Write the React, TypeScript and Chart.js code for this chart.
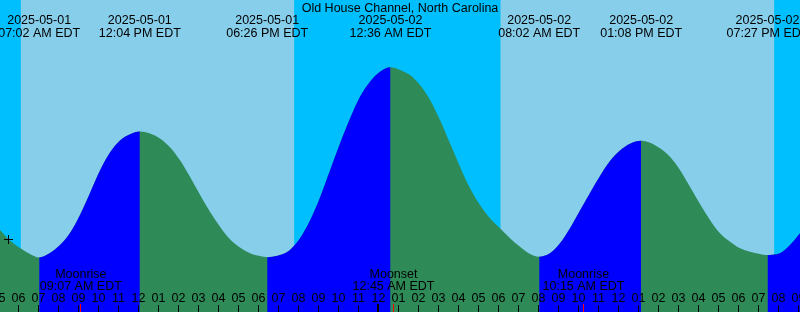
import React, { useEffect, useRef } from "react";
import { Chart, registerables } from "chart.js";

Chart.register(...registerables);

// ---- Data ----
const stationTitle = "Old House Channel, North Carolina";

// Tide extremes (hours since 2025-05-01 00:00 EDT)
const eventDates = ["2025-05-01", "2025-05-01", "2025-05-01", "2025-05-02", "2025-05-02", "2025-05-02", "2025-05-02"];
const eventTimes = ["07:02 AM EDT", "12:04 PM EDT", "06:26 PM EDT", "12:36 AM EDT", "08:02 AM EDT", "01:08 PM EDT", "07:27 PM EDT"];
const eventTypes = ["low", "high", "low", "high", "low", "high", "low"];
const eventHeights = [0.0, 0.63, 0.001, 0.951, 0.004, 0.584, 0.012];

// Sampled tide curve (hours since 2025-05-01 00:00, feet)
const sampleHours = [
  5.075, 5.575, 6.075, 6.575, 7.575, 8.075, 8.575, 9.075, 9.575, 10.075,
  10.575, 11.075, 11.575, 12.575, 13.075, 13.575, 14.075, 14.575, 15.075, 15.575,
  16.075, 16.575, 17.075, 17.575, 18.075, 18.575, 19.075, 19.575, 20.075, 20.575,
  21.075, 21.575, 22.075, 22.575, 23.075, 23.575, 24.075, 25.075, 25.575, 26.075,
  26.575, 27.075, 27.575, 28.075, 28.575, 29.075, 29.575, 30.075, 30.575, 31.075,
  31.575, 32.575, 33.075, 33.575, 34.075, 34.575, 35.075, 35.575, 36.075, 36.575,
  37.575, 38.075, 38.575, 39.075, 39.575, 40.075, 40.575, 41.075, 41.575, 42.075,
  42.575, 43.075, 43.575, 44.075, 44.575, 45.075,
];
const sampleHeights = [
  0.138, 0.085, 0.048, 0.018, 0.022, 0.062, 0.122, 0.2125, 0.3225, 0.435,
  0.525, 0.585, 0.616, 0.62, 0.595, 0.551, 0.486, 0.4035, 0.3135, 0.2285,
  0.1535, 0.091, 0.0495, 0.021, 0.007, 0.002, 0.012, 0.038, 0.096, 0.185,
  0.30, 0.435, 0.57, 0.695, 0.804, 0.879, 0.929, 0.938, 0.912, 0.862,
  0.788, 0.688, 0.571, 0.454, 0.346, 0.262, 0.196, 0.146, 0.096, 0.054,
  0.018, 0.021, 0.071, 0.146, 0.235, 0.3225, 0.4075, 0.4825, 0.535, 0.569,
  0.574, 0.546, 0.504, 0.438, 0.354, 0.2675, 0.188, 0.121, 0.079, 0.046,
  0.029, 0.018, 0.013, 0.021, 0.062, 0.121,
];

// Sun (hours since 2025-05-01 00:00)
const sunriseHours = [6.117, 30.1];
const sunsetHours = [19.783, 43.783];

// Moon events
const moonLabels = ["Moonrise", "Moonset", "Moonrise"];
const moonDates = ["2025-05-01", "2025-05-02", "2025-05-02"];
const moonTimes = ["09:07 AM EDT", "12:45 AM EDT", "10:15 AM EDT"];

// Current-time marker
const nowHour = 5.5;
const nowHeight = 0.09;

// Axis ranges
const xMin = 5.075;
const xMax = 45.075;
const yMin = -0.2725;
const yMax = 1.2875;

// ---- Helpers ----
const BASE_DATE = "2025-05-01";
function toHours(date: string, time: string): number {
  const m = time.match(/(\d+):(\d+)\s*(AM|PM)/);
  if (!m) return 0;
  let h = parseInt(m[1], 10) % 12;
  if (m[3] === "PM") h += 12;
  const mins = parseInt(m[2], 10);
  const dayOffset = (Date.parse(date) - Date.parse(BASE_DATE)) / 86400000;
  return dayOffset * 24 + h + mins / 60;
}

const eventHours = eventTimes.map((t, i) => toHours(eventDates[i], t));
const moonHours = moonTimes.map((t, i) => toHours(moonDates[i], t));

const curve = [
  ...sampleHours.map((x, i) => ({ x, y: sampleHeights[i] })),
  ...eventHours.map((x, i) => ({ x, y: eventHeights[i] })),
].sort((a, b) => a.x - b.x);

const COLORS = {
  night: "#00BFFF",
  day: "#87CEEB",
  rise: "#0000FF",
  fall: "#2E8B57",
  text: "#000000",
  mark: "#FF0000",
};
const FONT = "12.5px 'Liberation Sans', Arial, sans-serif";

function isRising(t1: number): boolean {
  for (let i = 0; i < eventHours.length; i++) {
    if (eventHours[i] >= t1 - 1e-9) return eventTypes[i] === "high";
  }
  return eventTypes[eventTypes.length - 1] === "low";
}

function riseColor(ctx: any) {
  return isRising(ctx.p1.parsed.x) ? COLORS.rise : "rgba(0,0,0,0)";
}

const backgroundPlugin = {
  id: "dayNight",
  beforeDraw(chart: any) {
    const { ctx, chartArea: a, scales } = chart;
    const xs = scales.x;
    ctx.save();
    ctx.fillStyle = COLORS.night;
    ctx.fillRect(a.left, a.top, a.right - a.left, a.bottom - a.top);
    ctx.fillStyle = COLORS.day;
    for (let i = 0; i < sunriseHours.length; i++) {
      const x0 = Math.max(a.left, xs.getPixelForValue(sunriseHours[i]));
      const x1 = Math.min(a.right, xs.getPixelForValue(sunsetHours[i]));
      if (x1 > x0) ctx.fillRect(x0, a.top, x1 - x0, a.bottom - a.top);
    }
    ctx.restore();
  },
};

const labelsPlugin = {
  id: "tideLabels",
  afterDatasetsDraw(chart: any) {
    const { ctx, chartArea: a, scales } = chart;
    const xs = scales.x;
    const W = chart.width;
    ctx.save();
    ctx.font = FONT;
    ctx.fillStyle = COLORS.text;
    ctx.textAlign = "center";
    ctx.textBaseline = "alphabetic";

    // title
    ctx.fillText(stationTitle, W / 2, 12);

    // tide events
    eventHours.forEach((h, i) => {
      const x = xs.getPixelForValue(h);
      ctx.fillText(eventDates[i], x, 24);
      ctx.fillText(eventTimes[i], x, 37);
    });

    // moon events
    moonHours.forEach((h, i) => {
      const x = xs.getPixelForValue(h);
      ctx.fillText(moonLabels[i], x, 278);
      ctx.fillText(moonTimes[i], x, 290);
    });

    // hour ticks
    const bottom = a.bottom;
    for (let h = Math.floor(xMin); h <= Math.ceil(xMax); h++) {
      const x = xs.getPixelForValue(h);
      const hr = h % 12 === 0 ? 12 : h % 12;
      const label = String(hr).padStart(2, "0");
      ctx.fillStyle = COLORS.text;
      ctx.fillText(label, x, 302);
      const col = Math.floor(x);
      if (h % 24 === 0) {
        ctx.fillRect(col - 1, bottom - 8, 2, 8);
      } else {
        ctx.fillRect(col, bottom - 7, 1, 7);
      }
    }
    ctx.fillStyle = COLORS.mark;
    moonHours.forEach((h) => {
      const col = Math.floor(xs.getPixelForValue(h));
      ctx.fillRect(col, bottom - 8, 1, 8);
    });
    ctx.restore();
  },
};

export default function App() {
  const ref = useRef<HTMLCanvasElement | null>(null);
  useEffect(() => {
    if (!ref.current) return;
    const chart = new Chart(ref.current, {
      type: "line",
      data: {
        datasets: [
          {
            type: "scatter",
            data: [{ x: nowHour, y: nowHeight }],
            pointStyle: "cross",
            pointRadius: 4.5,
            borderColor: COLORS.text,
            borderWidth: 1,
            backgroundColor: COLORS.text,
            order: 0,
            clip: false,
          } as any,
          {
            // rising (flood) portions, drawn over the ebb fill
            data: curve,
            parsing: false as any,
            fill: "start",
            borderWidth: 0,
            borderColor: "rgba(0,0,0,0)",
            backgroundColor: COLORS.rise,
            pointRadius: 0,
            cubicInterpolationMode: "monotone",
            segment: { backgroundColor: riseColor },
            order: 1,
          } as any,
          {
            // whole tide curve in the falling (ebb) colour
            data: curve,
            parsing: false as any,
            fill: "start",
            borderWidth: 0,
            borderColor: "rgba(0,0,0,0)",
            backgroundColor: COLORS.fall,
            pointRadius: 0,
            cubicInterpolationMode: "monotone",
            order: 2,
          } as any,
        ],
      },
      options: {
        responsive: false,
        maintainAspectRatio: false,
        animation: false,
        events: [],
        layout: { padding: 0, autoPadding: false },
        scales: {
          x: { type: "linear", min: xMin, max: xMax, display: false },
          y: { type: "linear", min: yMin, max: yMax, display: false },
        },
        plugins: {
          legend: { display: false },
          title: { display: false },
          tooltip: { enabled: false },
        },
      },
      plugins: [backgroundPlugin, labelsPlugin],
    });
    return () => chart.destroy();
  }, []);
  return (
    <div style={{ position: "fixed", left: 0, top: 0, width: 800, height: 312 }}>
      <canvas ref={ref} width={800} height={312} style={{ display: "block" }} />
    </div>
  );
}
